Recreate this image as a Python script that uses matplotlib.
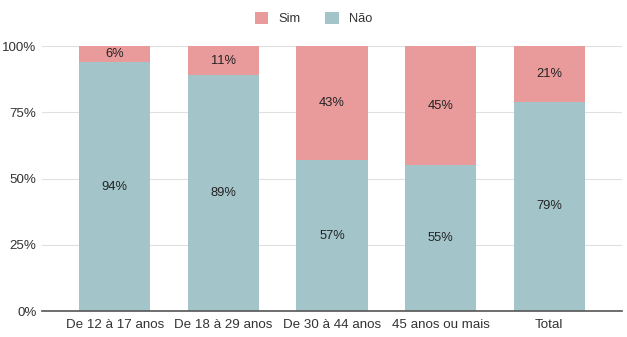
import matplotlib.pyplot as plt
import numpy as np
from matplotlib.ticker import FuncFormatter

categories = ["De 12 à 17 anos", "De 18 à 29 anos", "De 30 à 44 anos", "45 anos ou mais", "Total"]
nao = [94, 89, 57, 55, 79]
sim = [6, 11, 43, 45, 21]

sim_color = "#E99B9B"
nao_color = "#A3C5CA"
text_color = "#222222"

plt.rcParams["font.family"] = ["Liberation Sans", "DejaVu Sans"]

fig = plt.figure(figsize=(6.27, 3.37), dpi=100)
ax = fig.add_axes([0.067, 0.077, 0.925, 0.786])

x = np.arange(len(categories))
width = 0.655
ax.bar(x, nao, width, color=nao_color, label="Não", zorder=2)
ax.bar(x, sim, width, bottom=nao, color=sim_color, label="Sim", zorder=2)

for xi, n, s in zip(x, nao, sim):
    ax.text(xi, n / 2, f"{n}%", ha="center", va="center", fontsize=9.3, color=text_color, zorder=3)
    ax.text(xi, n + s / 2, f"{s}%", ha="center", va="center", fontsize=9.3, color=text_color, zorder=3)

ax.set_xlim(-0.67, 4.67)
ax.set_ylim(0, 100)
ax.set_yticks([0, 25, 50, 75, 100])
ax.yaxis.set_major_formatter(FuncFormatter(lambda v, p: f"{int(v)}%"))
ax.set_xticks(x)
ax.set_xticklabels(categories)
ax.tick_params(axis="both", length=0, labelsize=9.6, colors="#333333")
ax.tick_params(axis="x", pad=6)
ax.tick_params(axis="y", pad=4)
ax.grid(axis="y", color="#e0e0e0", linewidth=0.8, zorder=0)
for side in ["top", "right", "left"]:
    ax.spines[side].set_visible(False)
ax.spines["bottom"].set_color("#555555")
ax.spines["bottom"].set_linewidth(1.2)
ax.spines["bottom"].set_zorder(3)

handles, labels = ax.get_legend_handles_labels()
fig.legend(handles[::-1], labels[::-1], loc="upper center", bbox_to_anchor=(0.5, 1.0),
           ncol=2, frameon=False, fontsize=9.3, handlelength=1.05, handleheight=1.05,
           columnspacing=1.9, handletextpad=0.8, labelcolor="#333333")

fig.savefig("out.png", dpi=100)
